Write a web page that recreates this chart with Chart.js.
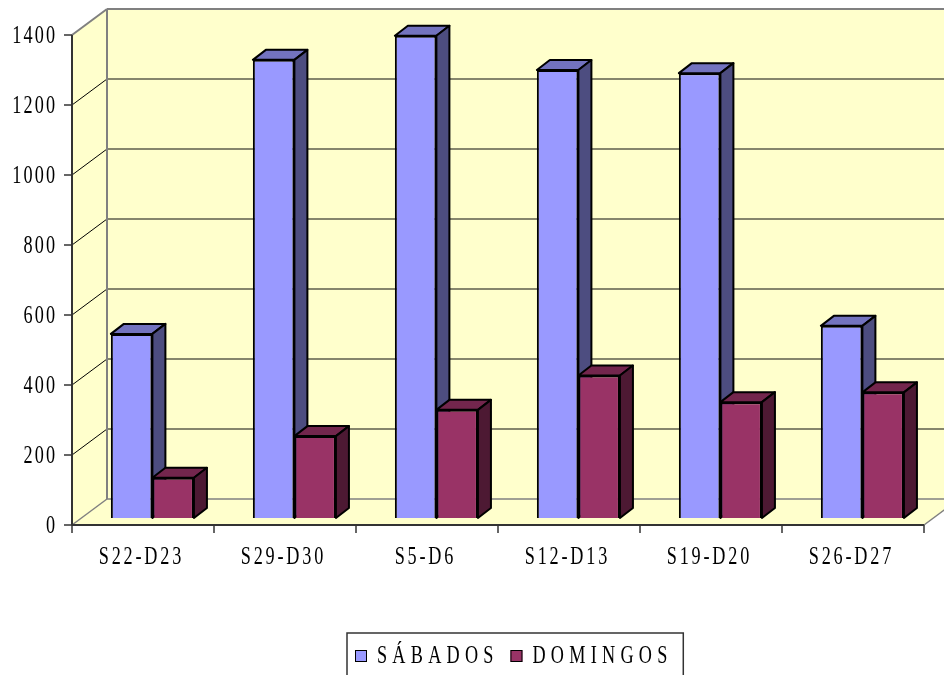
<!DOCTYPE html>
<html>
<head>
<meta charset="utf-8">
<script src="https://cdn.jsdelivr.net/npm/chart.js@4.4.1/dist/chart.umd.min.js"></script>
<style>
  html, body { margin: 0; padding: 0; background: #fff; }
  #wrap { width: 944px; height: 675px; }
</style>
</head>
<body>
<div id="wrap"><canvas id="postsChart"></canvas></div>
<script>
const categories = ['S22-D23', 'S29-D30', 'S5-D6', 'S12-D13', 'S19-D20', 'S26-D27'];
const sabados = [526, 1309, 1378, 1280, 1271, 549];
const domingos = [115, 234, 309, 407, 331, 359];
const seriesNames = ['SÁBADOS', 'DOMINGOS'];
const yMax = 1400;
const yStep = 200;

// 3d look: front plane, back wall and bar depth offsets (px) from the bar plane
const front = { dx: -9.4, dy: 7 };
const back = { dx: 25.6, dy: -19 };
const barDepth = { dx: 13, dy: -10 };
const faces = [
    { side: '#4d4d80', top: '#7373bf' },
    { side: '#4d1933', top: '#73264d' }
];
const FONT = "26px 'Liberation Serif', 'Times New Roman', serif";
const SQUEEZE = 0.7;

function poly(ctx, pts, fill, stroke, lw) {
    ctx.beginPath();
    ctx.moveTo(pts[0][0], pts[0][1]);
    for (let i = 1; i < pts.length; i++) ctx.lineTo(pts[i][0], pts[i][1]);
    ctx.closePath();
    if (fill) { ctx.fillStyle = fill; ctx.fill(); }
    if (stroke) { ctx.strokeStyle = stroke; ctx.lineWidth = lw || 1; ctx.stroke(); }
}

function line(ctx, x1, y1, x2, y2, color, lw) {
    ctx.beginPath();
    ctx.moveTo(x1, y1);
    ctx.lineTo(x2, y2);
    ctx.strokeStyle = color;
    ctx.lineWidth = lw;
    ctx.stroke();
}

// narrow, spaced-out serif text like the original
function textWidth(ctx, text, spacing) {
    ctx.save();
    ctx.font = FONT;
    ctx.letterSpacing = spacing + 'px';
    const w = (ctx.measureText(text).width - spacing) * SQUEEZE;
    ctx.restore();
    return w;
}

function narrowText(ctx, text, x, y, align, spacing) {
    const w = textWidth(ctx, text, spacing);
    let x0 = x;
    if (align === 'right') x0 = x - w;
    if (align === 'center') x0 = x - w / 2;
    ctx.save();
    ctx.translate(x0, y);
    ctx.scale(SQUEEZE, 1);
    ctx.font = FONT;
    ctx.letterSpacing = spacing + 'px';
    ctx.textAlign = 'left';
    ctx.textBaseline = 'middle';
    ctx.fillStyle = '#000';
    ctx.fillText(text, 0, 0);
    ctx.restore();
}

const box3d = {
    id: 'box3d',
    beforeDatasetsDraw(chart) {
        const ctx = chart.ctx;
        const a = chart.chartArea;
        const y = chart.scales.y;
        const fy = v => y.getPixelForValue(v) + front.dy;
        const by = v => y.getPixelForValue(v) + back.dy;
        const fL = a.left + front.dx, fR = a.right + front.dx;
        const bL = a.left + back.dx, bR = a.right + back.dx;
        const yellow = '#ffffcc';

        ctx.save();
        // walls and floor
        poly(ctx, [[bL, by(yMax)], [bR, by(yMax)], [bR, by(0)], [bL, by(0)]], yellow);
        poly(ctx, [[fL, fy(yMax)], [bL, by(yMax)], [bL, by(0)], [fL, fy(0)]], yellow);
        poly(ctx, [[fL, fy(0)], [bL, by(0)], [bR, by(0)], [fR, fy(0)]], yellow);

        // gridlines
        for (const t of y.ticks) {
            const v = t.value;
            if (v === 0 || v === yMax) continue;
            line(ctx, fL, fy(v), bL, by(v), '#000', 1);
            line(ctx, bL, by(v), bR, by(v), '#5e5e4c', 1.5);
        }
        line(ctx, fL, fy(0), bL, by(0), '#808080', 1.5);
        line(ctx, bL, by(0), bR, by(0), '#808080', 1.5);
        line(ctx, fR, fy(0), bR, by(0), '#808080', 1.5);

        // wall borders
        line(ctx, fL, fy(yMax), bL, by(yMax), '#808080', 2);
        line(ctx, bL, by(yMax), bR, by(yMax), '#808080', 2);
        line(ctx, bL, by(yMax), bL, by(0), '#808080', 2);

        // front axes, ticks and labels
        line(ctx, fL, fy(yMax), fL, fy(0), '#333', 2);
        line(ctx, fL, fy(0), fR, fy(0), '#333', 2);
        for (const t of y.ticks) {
            line(ctx, fL - 8, fy(t.value), fL, fy(t.value), '#333', 1.5);
            narrowText(ctx, String(t.value), fL - 17, fy(t.value) + 1, 'right', 3);
        }
        const n = categories.length;
        for (let i = 0; i <= n; i++) {
            const xx = fL + i * (fR - fL) / n;
            line(ctx, xx, fy(0), xx, fy(0) + 8, '#333', 1.5);
        }
        const x = chart.scales.x;
        x.ticks.forEach((t, i) => {
            narrowText(ctx, x.getLabelForValue(t.value), x.getPixelForTick(i) + front.dx - 3, fy(0) + 32, 'center', 4);
        });

        // bar tops and sides
        ctx.lineJoin = 'round';
        chart.data.datasets.forEach((ds, di) => {
            const meta = chart.getDatasetMeta(di);
            for (const bar of meta.data) {
                const p = bar.getProps(['x', 'y', 'base', 'width'], true);
                const l = p.x - p.width / 2, r = p.x + p.width / 2;
                const dx = barDepth.dx, dy = barDepth.dy;
                poly(ctx, [[l, p.y], [l + dx, p.y + dy], [r + dx, p.y + dy], [r, p.y]], faces[di].top, '#000', 2);
                poly(ctx, [[r, p.y], [r + dx, p.y + dy], [r + dx, p.base + dy], [r, p.base]], faces[di].side, '#000', 2);
            }
        });
        ctx.restore();
    },
    afterDraw(chart) {
        // legend box
        const ctx = chart.ctx;
        const ds = chart.data.datasets;
        const sq = 12, gapText = 10, gapItem = 17, spacing = 7.5;
        const widths = ds.map(d => sq + gapText + textWidth(ctx, d.label, spacing));
        const total = widths.reduce((s, w) => s + w, 0) + gapItem * (ds.length - 1);
        const start = 355;
        const cy = 656;
        ctx.save();
        ctx.strokeStyle = '#333';
        ctx.lineWidth = 1.5;
        ctx.strokeRect(start - 8, cy - 23, total + 24, 50);
        let xx = start;
        ds.forEach((d, i) => {
            ctx.fillStyle = d.backgroundColor;
            ctx.fillRect(xx, cy - 6, sq, sq);
            ctx.strokeStyle = '#000';
            ctx.lineWidth = 1;
            ctx.strokeRect(xx + 0.5, cy - 5.5, sq - 1, sq - 1);
            narrowText(ctx, d.label, xx + sq + gapText, cy, 'left', spacing);
            xx += widths[i] + gapItem;
        });
        ctx.restore();
    }
};

new Chart(document.getElementById('postsChart'), {
    type: 'bar',
    data: {
        labels: categories,
        datasets: [
            {
                label: seriesNames[0],
                backgroundColor: '#9999ff',
                borderColor: '#000',
                borderWidth: 2,
                data: sabados
            },
            {
                label: seriesNames[1],
                backgroundColor: '#993366',
                borderColor: '#000',
                borderWidth: 2,
                data: domingos
            }
        ]
    },
    options: {
        responsive: true,
        maintainAspectRatio: false,
        animation: false,
        layout: { padding: { top: 28, right: 10.6, bottom: 0, left: 0 } },
        datasets: { bar: { categoryPercentage: 0.585, barPercentage: 1 } },
        plugins: {
            tooltip: { enabled: false },
            legend: { display: false }
        },
        scales: {
            x: {
                grid: { display: false, drawTicks: false },
                border: { display: false },
                ticks: { display: false },
                afterFit(scale) { scale.height = 157; }
            },
            y: {
                min: 0,
                max: yMax,
                grid: { display: false, drawTicks: false },
                border: { display: false },
                ticks: { display: false, stepSize: yStep },
                afterFit(scale) { scale.width = 81.4; }
            }
        }
    },
    plugins: [box3d]
});
</script>
</body>
</html>
